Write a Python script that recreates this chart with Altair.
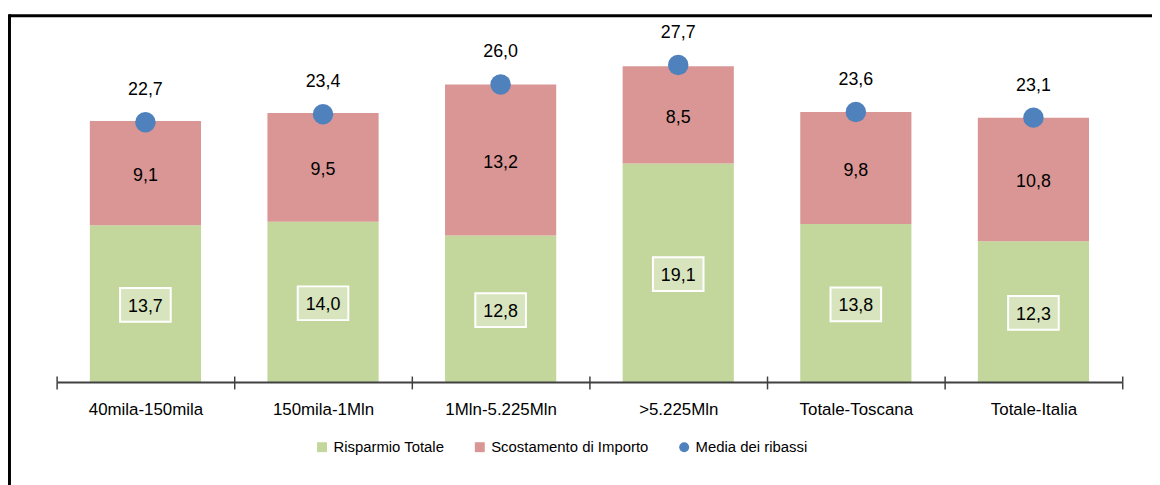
import altair as alt
import pandas as pd

categories = ["40mila-150mila", "150mila-1Mln", "1Mln-5.225Mln", ">5.225Mln", "Totale-Toscana", "Totale-Italia"]
risparmio = [13.7, 14.0, 12.8, 19.1, 13.8, 12.3]
scostamento = [9.1, 9.5, 13.2, 8.5, 9.8, 10.8]
media = [22.7, 23.4, 26.0, 27.7, 23.6, 23.1]
series_names = ["Risparmio Totale", "Scostamento di Importo", "Media dei ribassi"]
colors = ["#C3D69B", "#D99694", "#4F81BD"]

FONT = "Liberation Sans"
W, H = 1074, 346


def fmt(v):
    return f"{v:.1f}".replace(".", ",")


rows = []
for c, r, s in zip(categories, risparmio, scostamento):
    rows.append({"cat": c, "series": series_names[0], "value": r, "ord": 0, "mid": r / 2, "label": fmt(r)})
    rows.append({"cat": c, "series": series_names[1], "value": s, "ord": 1, "mid": r + s / 2, "label": fmt(s)})
bars_df = pd.DataFrame(rows)
green_df = bars_df[bars_df["ord"] == 0]
red_df = bars_df[bars_df["ord"] == 1]
pts_df = pd.DataFrame({"cat": categories, "series": series_names[2], "value": media,
                       "label": [fmt(v) for v in media]})

xscale = alt.Scale(paddingInner=0, paddingOuter=0)
yscale = alt.Scale(domain=[0, 30], nice=False, zero=True)
cscale = alt.Scale(domain=series_names, range=colors)
sscale = alt.Scale(domain=series_names, range=["square", "square", "circle"])


def xenc(axis=None):
    return alt.X("cat:N", sort=categories, scale=xscale, axis=axis)


bottom_axis = alt.Axis(title=None, orient="bottom", tickBand="extent", tickSize=7,
                       tickColor="#404040", tickWidth=1.5, domainColor="#404040",
                       domainWidth=2, labelFont=FONT, labelFontSize=17,
                       labelColor="black", labelPadding=12.5, labelAngle=0, zindex=1)
top_axis = alt.Axis(title=None, orient="top", offset=-H, tickBand="extent", tickSize=6,
                    tickColor="#404040", tickWidth=1.5, domain=False, labels=False, zindex=1)

bars = alt.Chart(bars_df).mark_bar(width=alt.RelativeBandSize(0.626)).encode(
    x=xenc(bottom_axis),
    y=alt.Y("value:Q", stack="zero", scale=yscale, axis=None),
    color=alt.Color("series:N", scale=cscale, legend=alt.Legend(title=None)),
    order=alt.Order("ord:Q"),
)

red_text = alt.Chart(red_df).mark_text(font=FONT, fontSize=18, color="black",
                                       baseline="alphabetic", dy=8).encode(
    x=xenc(), y=alt.Y("mid:Q", scale=yscale, axis=None), text="label:N")

green_box = alt.Chart(green_df).mark_point(shape="M-1,-0.667H1V0.667H-1Z", size=2601,
                                           filled=True, fill="#D7E4BD", stroke="white",
                                           strokeWidth=2, opacity=1, yOffset=1.4).encode(
    x=xenc(), y=alt.Y("mid:Q", scale=yscale, axis=None))

green_text = alt.Chart(green_df).mark_text(font=FONT, fontSize=18, color="black",
                                           baseline="alphabetic", dy=8).encode(
    x=xenc(), y=alt.Y("mid:Q", scale=yscale, axis=None), text="label:N")

points = alt.Chart(pts_df).mark_point(filled=True, size=425, opacity=1).encode(
    x=xenc(top_axis),
    y=alt.Y("value:Q", scale=yscale, axis=None),
    color=alt.Color("series:N", scale=cscale, legend=alt.Legend(title=None)),
    shape=alt.Shape("series:N", scale=sscale, legend=alt.Legend(title=None)),
)

pt_text = alt.Chart(pts_df).mark_text(font=FONT, fontSize=18, color="black",
                                      baseline="alphabetic", dy=-27.3).encode(
    x=xenc(), y=alt.Y("value:Q", scale=yscale, axis=None), text="label:N")

one = pd.DataFrame({"a": [0]})
frame_top = alt.Chart(one).mark_rule(color="black", strokeWidth=3).encode(
    x=alt.value(-48), x2=alt.value(W + 40), y=alt.value(-23))
frame_left = alt.Chart(one).mark_rule(color="black", strokeWidth=3).encode(
    x=alt.value(-47.5), y=alt.value(-24.5), y2=alt.value(H + 120))

chart = alt.layer(
    bars, red_text, green_box, green_text, points, pt_text, frame_top, frame_left
).resolve_axis(x="independent").properties(
    width=W, height=H,
    autosize=alt.AutoSizeParams(type="none"),
    padding={"left": 49, "top": 29, "right": 30, "bottom": 110},
).configure_view(stroke=None).configure_legend(
    orient="none", legendX=260, legendY=404, direction="horizontal",
    labelFont=FONT, labelFontSize=15, labelColor="black", symbolSize=100,
    symbolStrokeWidth=0, labelOffset=4, columnPadding=28, padding=0, labelLimit=400,
)

chart.save("out.html", embed_options={"renderer": "svg", "actions": False})
